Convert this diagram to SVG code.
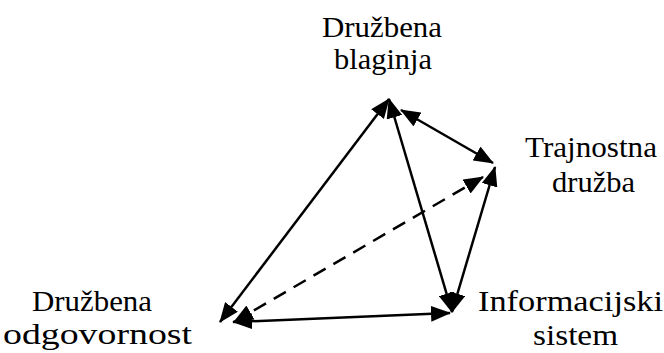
<svg xmlns="http://www.w3.org/2000/svg" width="664" height="353" viewBox="0 0 664 353">
<style>
.t{font-family:'Liberation Serif',Tinos,'Times New Roman',Times,serif;font-size:30px;fill:#000}
.c{stroke:#000;stroke-width:2.5;fill:none;marker-start:url(#ah);marker-end:url(#ah)}
.d{stroke-dasharray:14 9}
</style>
<defs>
<marker id="ah" viewBox="0 0 20 16" refX="19" refY="8" markerWidth="20" markerHeight="16" markerUnits="userSpaceOnUse" orient="auto-start-reverse">
<path d="M0,0 L20,8 L0,16 z" fill="#000"/>
</marker>
</defs>
<g id="connectors">
<line class="c" x1="220" y1="322" x2="389" y2="99"/>
<line class="c" x1="389" y1="99" x2="452" y2="312"/>
<line class="c" x1="401" y1="110" x2="493" y2="163"/>
<line class="c" x1="452" y1="312" x2="495" y2="167"/>
<line class="c d" x1="234" y1="322" x2="483" y2="177"/>
<line class="c" x1="233" y1="322" x2="450" y2="313"/>
</g>
<g id="n-blaginja" class="t" font-family="Liberation Serif, serif">
<text x="322" y="37" textLength="120" lengthAdjust="spacingAndGlyphs">Družbena</text>
<text x="334" y="69" textLength="98" lengthAdjust="spacingAndGlyphs">blaginja</text>
</g>
<g id="n-trajnostna" class="t" font-family="Liberation Serif, serif">
<text x="525" y="157" textLength="132" lengthAdjust="spacingAndGlyphs">Trajnostna</text>
<text x="552" y="192" textLength="83" lengthAdjust="spacingAndGlyphs">družba</text>
</g>
<g id="n-informacijski" class="t" font-family="Liberation Serif, serif">
<text x="478" y="311" textLength="185" lengthAdjust="spacingAndGlyphs">Informacijski</text>
<text x="533" y="345" textLength="85" lengthAdjust="spacingAndGlyphs">sistem</text>
</g>
<g id="n-odgovornost" class="t" font-family="Liberation Serif, serif">
<text x="32" y="311" textLength="120" lengthAdjust="spacingAndGlyphs">Družbena</text>
<text x="3" y="344" textLength="189" lengthAdjust="spacingAndGlyphs">odgovornost</text>
</g>
</svg>
